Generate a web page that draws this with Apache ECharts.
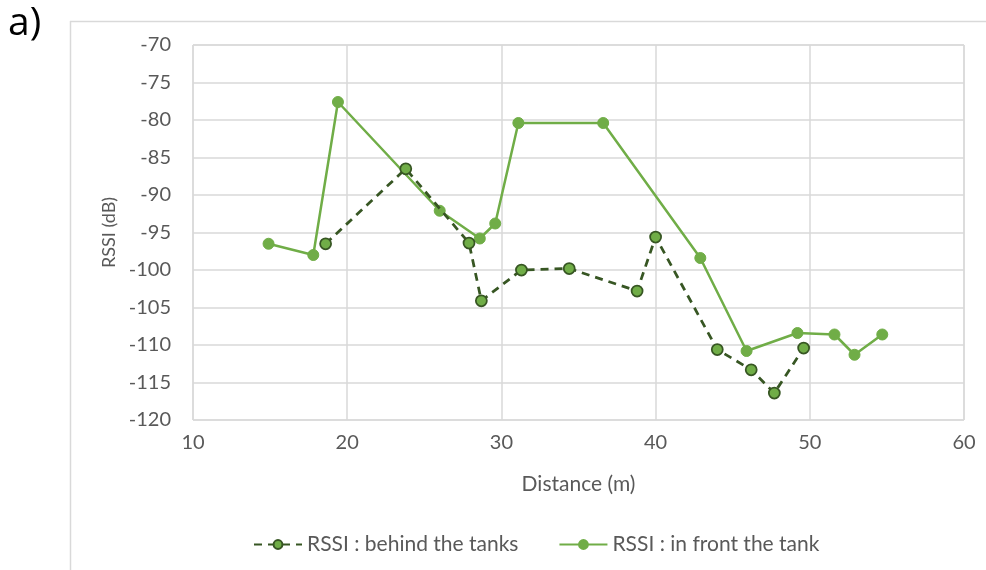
<!DOCTYPE html>
<html>
<head>
<meta charset="utf-8">
<script src="https://cdn.jsdelivr.net/npm/echarts@6/dist/echarts.min.js"></script>
<style>html,body{margin:0;padding:0;background:#fff}#c{width:986px;height:570px}</style>
</head>
<body>
<div id="c"></div>
<script>
const behindX = [18.6, 23.8, 27.9, 28.7, 31.3, 34.4, 38.8, 40.0, 44.0, 46.2, 47.7, 49.6];
const behindY = [-96.5, -86.5, -96.4, -104.1, -100.0, -99.8, -102.8, -95.6, -110.6, -113.3, -116.4, -110.4];
const frontX = [14.9, 17.8, 19.4, 26.0, 28.6, 29.6, 31.1, 36.6, 42.9, 45.9, 49.2, 51.6, 52.9, 54.7];
const frontY = [-96.5, -98.0, -77.6, -92.1, -95.8, -93.8, -80.4, -80.4, -98.4, -110.8, -108.4, -108.6, -111.3, -108.6];
const seriesNames = ['RSSI : behind the tanks', 'RSSI : in front the tank'];
const xTitle = 'Distance (m)';
const yTitle = 'RSSI (dB)';
const panelLabel = 'a)';

const pair = (xs, ys) => xs.map((x, i) => [x, ys[i]]);
const font = 'Lato, "Open Sans", sans-serif';
const chart = echarts.init(document.getElementById('c'));
chart.setOption({
  animation: false,
  backgroundColor: '#fff',
  grid: { left: 193, top: 45, width: 771, height: 375, show: true, borderColor: '#cfcfcf', borderWidth: 1 },
  graphic: [
    { type: 'line', shape: { x1: 70, y1: 21.5, x2: 986, y2: 21.5 }, style: { stroke: '#d9d9d9', lineWidth: 1.5 } },
    { type: 'line', shape: { x1: 70.5, y1: 21, x2: 70.5, y2: 570 }, style: { stroke: '#d9d9d9', lineWidth: 1.5 } },
    { type: 'text', left: 8, top: 4, style: { text: panelLabel, font: '39px "Open Sans", sans-serif', fill: '#000' } }
  ],
  xAxis: {
    type: 'value', min: 10, max: 60, interval: 10,
    name: xTitle, nameLocation: 'middle', nameGap: 54,
    nameTextStyle: { fontSize: 21, color: '#595959', fontFamily: font },
    axisLine: { show: false }, axisTick: { show: false },
    axisLabel: { fontSize: 20, color: '#595959', fontFamily: font, margin: 13 },
    splitLine: { lineStyle: { color: '#d9d9d9', width: 1.5 } }
  },
  yAxis: {
    type: 'value', min: -120, max: -70, interval: 5,
    name: yTitle, nameLocation: 'middle', nameGap: 75,
    nameTextStyle: { fontSize: 18, color: '#595959', fontFamily: font },
    axisLine: { show: false }, axisTick: { show: false },
    axisLabel: { fontSize: 20, color: '#595959', fontFamily: font, margin: 22 },
    splitLine: { lineStyle: { color: '#d9d9d9', width: 1.5 } }
  },
  legend: {
    left: 248, top: 529, itemGap: 40, itemWidth: 48, itemHeight: 11,
    textStyle: { fontSize: 21, color: '#595959', fontFamily: font },
    data: seriesNames
  },
  series: [
    {
      name: seriesNames[1], type: 'line', data: pair(frontX, frontY), z: 2,
      symbol: 'circle', symbolSize: 11,
      lineStyle: { color: '#70ad47', width: 2.5 },
      itemStyle: { color: '#70ad47', borderColor: '#70ad47', borderWidth: 1 }
    },
    {
      name: seriesNames[0], type: 'line', data: pair(behindX, behindY), z: 3,
      symbol: 'circle', symbolSize: 11,
      lineStyle: { color: '#375623', width: 2.75, type: [8, 6] },
      itemStyle: { color: '#70ad47', borderColor: '#375623', borderWidth: 1.75 }
    }
  ]
});
</script>
</body>
</html>
